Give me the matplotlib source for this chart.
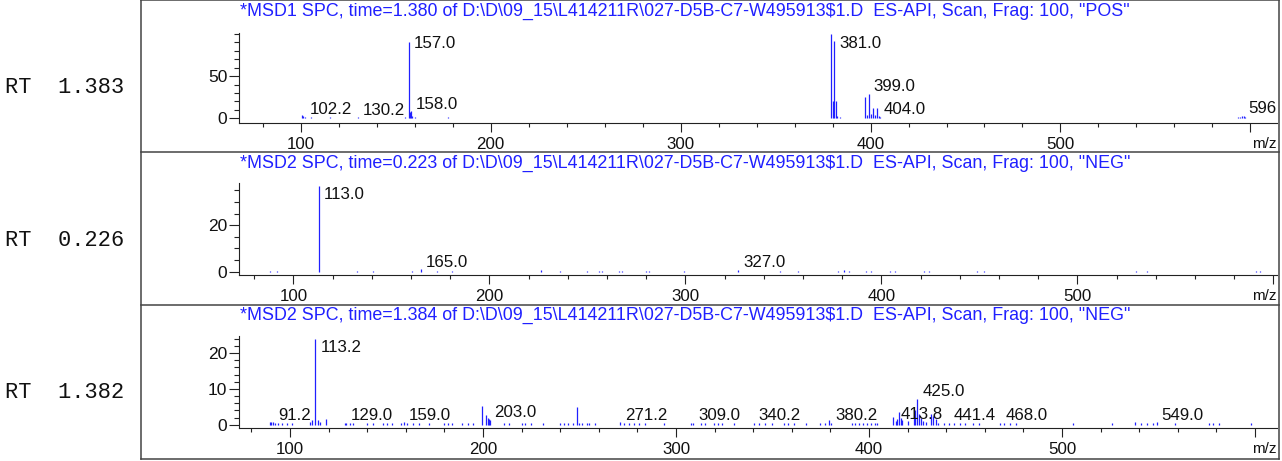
import matplotlib
matplotlib.use("Agg")
import matplotlib.pyplot as plt
from matplotlib.lines import Line2D
from matplotlib.ticker import MultipleLocator, FixedLocator
import numpy as np

plt.rcParams['font.family'] = 'Liberation Sans'

# --- data ---
titles = [
    r'*MSD1 SPC, time=1.380 of D:\D\09_15\L414211R\027-D5B-C7-W495913$1.D  ES-API, Scan, Frag: 100, "POS"',
    r'*MSD2 SPC, time=0.223 of D:\D\09_15\L414211R\027-D5B-C7-W495913$1.D  ES-API, Scan, Frag: 100, "NEG"',
    r'*MSD2 SPC, time=1.384 of D:\D\09_15\L414211R\027-D5B-C7-W495913$1.D  ES-API, Scan, Frag: 100, "NEG"',
]
rt_labels = ["RT  1.383", "RT  0.226", "RT  1.382"]

x_major = [100, 200, 300, 400, 500, 600]
x_major_labels = ["100", "200", "300", "400", "500", ""]

pos_mz = [83.5, 85.0, 86.5, 88.0, 90.0, 96.5, 98.0, 100.6, 101.3, 102.2,
          104.0, 105.6, 107.0, 109.0, 111.8, 113.5, 115.2, 117.5, 119.4, 121.0,
          123.5, 125.0, 126.2, 127.5, 128.8, 130.2, 131.5, 133.0, 134.4, 136.0,
          137.5, 139.0, 140.4, 142.0, 143.5, 145.0, 146.4, 148.0, 149.5, 151.0,
          153.0, 155.0, 157.0, 157.6, 158.0, 158.6, 160.2, 161.6, 163.0, 165.0,
          167.0, 168.5, 171.0, 175.0, 177.4, 178.5, 180.2, 183.0, 185.6, 196.8,
          199.0, 207.0, 211.0, 213.5, 216.0, 218.5, 220.6, 229.6, 252.5, 256.0,
          259.0, 262.0, 266.0, 270.0, 274.0, 277.0, 280.0, 282.5, 291.0, 297.6,
          311.8, 317.7, 319.5, 321.0, 323.0, 335.0, 337.0, 343.0, 349.0, 350.5,
          352.5, 354.6, 371.7, 379.2, 380.0, 381.0, 381.6, 382.6, 383.9, 397.2,
          398.2, 399.4, 400.3, 401.4, 402.4, 403.4, 404.2, 405.2, 407.0, 409.0,
          411.0, 413.0, 415.0, 416.5, 418.0, 420.0, 422.0, 424.0, 426.6, 435.5,
          441.5, 443.0, 445.0, 447.5, 449.4, 457.0, 459.0, 460.5, 462.6, 473.0,
          486.0, 514.7, 517.0, 519.5, 522.6, 529.0, 550.0, 555.0, 569.5, 571.0,
          574.0, 586.8, 593.5, 594.7, 595.6, 596.4, 597.3]
pos_int = [0.8, 0.6, 0.8, 0.6, 0.8, 0.9, 0.7, 4.5, 2.5, 1.8,
           0.8, 1.2, 0.8, 0.7, 0.9, 0.7, 1.0, 0.6, 0.8, 0.7,
           0.8, 0.9, 0.7, 0.8, 0.9, 1.5, 0.8, 0.7, 0.9, 0.8,
           0.7, 0.9, 0.8, 0.7, 0.9, 0.8, 0.7, 0.8, 0.9, 0.7,
           0.9, 1.2, 90.0, 8.0, 8.5, 3.0, 1.0, 0.8, 0.7, 0.9,
           0.8, 0.7, 0.8, 0.9, 1.2, 0.8, 0.9, 0.7, 0.8, 0.7,
           0.8, 0.7, 0.8, 0.7, 0.8, 0.9, 0.7, 0.6, 0.7, 0.6,
           0.7, 0.6, 0.7, 0.6, 0.7, 0.6, 0.7, 0.6, 0.7, 0.6,
           0.7, 0.8, 0.7, 0.8, 0.6, 0.7, 0.8, 0.6, 0.7, 0.8,
           0.7, 0.6, 0.7, 100.0, 20.0, 92.0, 20.0, 3.0, 1.8, 25.0,
           4.0, 29.0, 5.0, 12.0, 4.0, 12.0, 2.5, 1.2, 0.9, 0.8,
           0.8, 0.9, 0.7, 0.8, 0.9, 0.7, 0.8, 0.7, 0.6, 0.7,
           0.8, 0.7, 0.8, 0.9, 0.7, 0.8, 0.6, 0.7, 0.6, 0.7,
           0.6, 0.7, 0.6, 0.7, 0.6, 0.6, 0.7, 0.6, 0.7, 0.6,
           0.7, 0.6, 1.0, 2.0, 3.0, 2.5, 1.0]
pos_label_mz = [102.2, 130.2, 157.0, 158.0, 381.0, 399.0, 404.0, 596.0]
pos_label_txt = ["102.2", "130.2", "157.0", "158.0", "381.0", "399.0", "404.0", "596"]

neg1_mz = [87.9, 91.6, 113.0, 132.6, 140.6, 160.3, 165.0, 173.2, 180.9, 226.4,
           235.8, 249.9, 255.9, 257.5, 266.2, 267.8, 279.9, 281.4, 299.2, 327.0,
           348.0, 357.2, 377.7, 380.8, 383.2, 392.1, 394.5, 404.1, 407.0, 421.5,
           424.3, 448.9, 452.2, 529.9, 535.5, 591.1, 593.2]
neg1_int = [0.4, 0.4, 37.0, 0.4, 0.4, 0.4, 1.0, 0.4, 0.4, 0.5,
            0.4, 0.4, 0.4, 0.4, 0.4, 0.4, 0.4, 0.4, 0.4, 0.9,
            0.4, 0.4, 0.4, 0.5, 0.4, 0.4, 0.4, 0.4, 0.4, 0.4,
            0.4, 0.4, 0.4, 0.4, 0.4, 0.4, 0.4]
neg1_label_mz = [113.0, 165.0, 327.0]
neg1_label_txt = ["113.0", "165.0", "327.0"]

neg2_mz = [89.5, 90.3, 91.2, 92.5, 94.0, 96.0, 98.5, 101.0, 110.2, 111.3,
           113.2, 114.5, 115.6, 118.7, 128.5, 129.0, 131.0, 132.6, 139.7, 143.0,
           148.0, 150.5, 153.0, 157.6, 159.0, 160.5, 164.0, 167.0, 172.0, 180.0,
           182.0, 184.0, 189.0, 192.0, 194.8, 199.6, 201.4, 202.4, 203.0, 203.6,
           211.0, 213.6, 220.0, 222.0, 225.0, 231.0, 240.0, 242.0, 244.0, 246.6,
           248.5, 250.0, 251.5, 253.7, 255.0, 258.0, 271.2, 273.0, 275.5, 278.0,
           281.0, 284.0, 294.0, 308.0, 309.0, 313.0, 315.0, 319.5, 322.0, 324.0,
           330.0, 340.2, 343.0, 346.0, 349.5, 356.0, 358.0, 361.0, 367.6, 374.7,
           377.0, 379.4, 380.2, 391.0, 393.0, 395.0, 397.0, 399.0, 401.0, 403.0,
           404.4, 412.7, 413.8, 414.6, 415.5, 416.5, 417.3, 420.4, 423.2, 424.0,
           425.0, 426.0, 427.0, 428.0, 429.8, 432.0, 433.0, 434.5, 436.0, 439.0,
           441.4, 444.0, 447.0, 450.0, 454.0, 457.0, 468.0, 470.0, 473.0, 476.0,
           505.7, 526.0, 538.0, 541.0, 544.0, 547.0, 549.0, 558.6, 576.0, 578.0,
           581.6, 597.7]
neg2_int = [0.7, 0.8, 0.7, 0.4, 0.4, 0.5, 0.4, 0.4, 0.8, 1.2,
            23.9, 1.2, 0.8, 1.5, 0.5, 0.6, 0.4, 0.4, 0.4, 0.5,
            0.5, 0.4, 0.5, 0.5, 0.7, 0.5, 0.4, 0.4, 0.5, 0.6,
            0.4, 0.5, 0.4, 0.5, 0.4, 5.1, 2.8, 2.0, 1.5, 1.4,
            0.4, 0.5, 0.4, 0.4, 0.5, 0.4, 0.4, 0.5, 0.4, 0.6,
            4.8, 0.6, 0.5, 0.4, 0.4, 0.4, 0.7, 0.6, 0.5, 0.4,
            0.5, 0.4, 0.4, 0.4, 0.6, 0.4, 0.4, 0.4, 0.5, 0.4,
            0.4, 0.6, 0.4, 0.4, 0.5, 0.4, 0.4, 0.4, 0.5, 0.4,
            0.5, 1.2, 0.6, 0.5, 0.6, 0.5, 0.6, 0.5, 0.6, 0.5,
            0.6, 2.2, 1.0, 1.6, 3.5, 2.0, 1.2, 1.0, 2.2, 4.0,
            7.2, 3.0, 2.0, 1.0, 0.8, 3.0, 2.5, 1.5, 0.6, 0.5,
            0.6, 0.4, 0.4, 0.5, 0.4, 0.4, 0.6, 0.4, 0.5, 0.4,
            0.4, 0.4, 0.8, 0.4, 0.5, 0.4, 0.7, 0.4, 0.4, 0.4,
            0.4, 0.4]
neg2_label_mz = [91.2, 113.2, 129.0, 159.0, 203.0, 271.2, 309.0, 340.2,
                 380.2, 413.8, 425.0, 441.4, 468.0, 549.0]
neg2_label_txt = ["91.2", "113.2", "129.0", "159.0", "203.0", "271.2", "309.0", "340.2",
                  "380.2", "413.8", "425.0", "441.4", "468.0", "549.0"]

spectra = [(pos_mz, pos_int, pos_label_mz, pos_label_txt),
           (neg1_mz, neg1_int, neg1_label_mz, neg1_label_txt),
           (neg2_mz, neg2_int, neg2_label_mz, neg2_label_txt)]

# --- layout (pixels) ---
W, H, DPI = 1282, 461, 100
BLUE = '#2020ff'
INK = '#222222'
FRAME = '#444444'

panels = [
    dict(frame_top=0.5, box=(239, 33, 1277, 122.7), xlim=(67.5, 614), ylim=(-5.2, 101), ymaj=50, ymin=10),
    dict(frame_top=152, box=(239, 183.3, 1277, 275), xlim=(72.2, 601.8), ylim=(-1.45, 38), ymaj=20, ymin=5),
    dict(frame_top=304.7, box=(239, 336.3, 1277, 428), xlim=(73.6, 611.4), ylim=(-0.93, 24.7), ymaj=10, ymin=2),
]

fig = plt.figure(figsize=(W / DPI, H / DPI), dpi=DPI)


def px_axes(l, t, r, b):
    return fig.add_axes([l / W, 1 - b / H, (r - l) / W, (b - t) / H])


def frame_line(xs, ys):
    fig.add_artist(Line2D([x / W for x in xs], [1 - y / H for y in ys],
                          transform=fig.transFigure, color=FRAME, lw=1.1))


def label_peaks(ax, mz, inten, lab_mz, lab_txt, ymax):
    mz = np.asarray(mz)
    inten = np.asarray(inten)
    for m, t in zip(lab_mz, lab_txt):
        near = np.abs(mz - m) <= 0.5
        h = inten[near].max() if near.any() else 0.0
        if h > 0.75 * ymax:
            # tall peak: label hangs from the top of the plot
            ax.annotate(t, (m, ymax), xytext=(3.6, -2.4), textcoords='offset points',
                        ha='left', va='top', fontsize=12.2, color='#111111')
        else:
            ax.annotate(t, (m, h), xytext=(3.6, 1.8), textcoords='offset points',
                        ha='left', va='baseline', fontsize=12.2, color='#111111')


for i, p in enumerate(panels):
    l, t, r, b = p['box']
    mz, inten, lab_mz, lab_txt = spectra[i]
    ax = px_axes(l, t, r, b)
    ax.patch.set_visible(False)
    ax.vlines(mz, 0, inten, color=BLUE, lw=0.9)
    ax.set_xlim(*p['xlim'])
    ax.set_ylim(*p['ylim'])
    for s in ['top', 'right']:
        ax.spines[s].set_visible(False)
    for s in ['left', 'bottom']:
        ax.spines[s].set_color(INK)
        ax.spines[s].set_linewidth(0.8)

    ax.xaxis.set_major_locator(FixedLocator(x_major))
    ax.set_xticklabels(x_major_labels)
    ax.xaxis.set_minor_locator(MultipleLocator(20))
    # labelled y ticks stop short of the top of the axis
    ytop = p['ylim'][1]
    ax.yaxis.set_major_locator(FixedLocator(np.arange(0, ytop * 0.95, p['ymaj'])))
    ax.yaxis.set_minor_locator(MultipleLocator(p['ymin']))
    ax.tick_params(axis='x', which='major', length=6.5, width=0.8, pad=3.5,
                   labelsize=12.2, color=INK, labelcolor='#111111')
    ax.tick_params(axis='x', which='minor', length=3.2, width=0.8, color=INK)
    ax.tick_params(axis='y', which='major', length=7, width=0.8, pad=1.5,
                   labelsize=12.5, color=INK, labelcolor='#111111')
    ax.tick_params(axis='y', which='minor', length=3.6, width=0.8, color=INK)

    label_peaks(ax, mz, inten, lab_mz, lab_txt, ytop)

    ax.annotate('m/z', (1, 0), xycoords='axes fraction', xytext=(0, -15),
                textcoords='offset points', ha='right', va='center', fontsize=11, color='#111111')

    ft = p['frame_top']
    fig.text(240 / W, 1 - (ft + 11) / H, titles[i], color=BLUE, fontsize=12.9,
             ha='left', va='center', parse_math=False)
    fig.text(5 / W, 1 - (b - 35) / H, rt_labels[i], family='Liberation Mono',
             fontsize=15.8, ha='left', va='center', color='#111111')

# panel frames
for y in [0.5, 152, 304.7, 458.5]:
    frame_line([140.5, 1278.5], [y, y])
frame_line([140.5, 140.5], [0.5, 458.5])
frame_line([1278.5, 1278.5], [0.5, 458.5])

fig.savefig('out.png', dpi=DPI, facecolor='white')
